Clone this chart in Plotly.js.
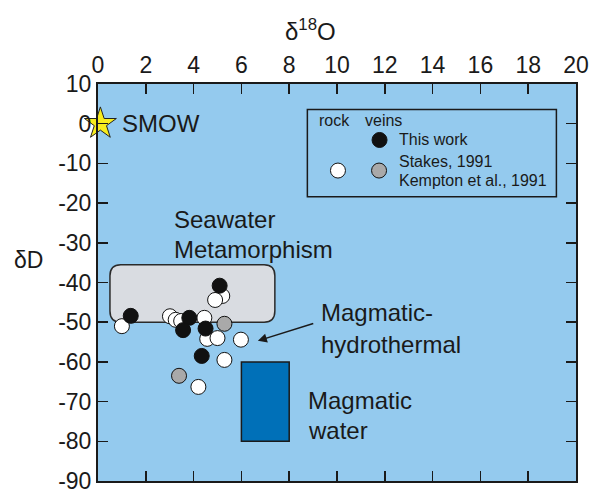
<!DOCTYPE html>
<html>
<head>
<meta charset="utf-8">
<script src="https://cdn.plot.ly/plotly-3.0.1.min.js"></script>
<style>html,body{margin:0;padding:0;background:#fff;}#chart{width:590px;height:491px;}</style>
</head>
<body>
<div id="chart"></div>
<script>
// ---- data (δ18O, δD) ----
const thisWorkX = [5.09, 1.37, 3.82, 3.56, 4.50, 4.34];
const thisWorkY = [-40.8, -48.4, -48.9, -52.0, -51.6, -58.5];
const rockX = [5.20, 4.90, 1.00, 3.01, 3.25, 3.48, 4.45, 4.57, 5.00, 5.98, 5.29, 4.20];
const rockY = [-43.4, -44.4, -51.0, -48.5, -49.4, -49.7, -48.9, -54.2, -54.0, -54.4, -59.5, -66.3];
const veinGrayX = [5.29, 3.39];
const veinGrayY = [-50.4, -63.5];
const smowX = [0.1];
const smowY = [0];
// regions
const seawaterBox = {x0: 0.5, x1: 7.4, y0: -50, y1: -35.5};
const magmaticBox = {x0: 6, x1: 8, y0: -80, y1: -60};
// legend keys
const legendBlack = {x: [11.78], y: [-4.1]};
const legendWhite = {x: [10.04], y: [-11.8]};
const legendGray = {x: [11.76], y: [-11.8]};
const legendBox = {x0: 8.76, x1: 19.18, y0: -18.4, y1: 3.6};
const xTicks = [0, 2, 4, 6, 8, 10, 12, 14, 16, 18, 20];
const yTicks = [10, 0, -10, -20, -30, -40, -50, -60, -70, -80, -90];

const FONT = 'Liberation Sans, Arial, Helvetica, sans-serif';
const INK = '#1a1a1a';
const mk = (fill) => ({size: 15, color: fill, line: {color: '#111', width: 1}});

const traces = [
  {x: rockX, y: rockY, mode: 'markers', type: 'scatter', marker: mk('#ffffff'), hoverinfo: 'none'},
  {x: veinGrayX, y: veinGrayY, mode: 'markers', type: 'scatter', marker: mk('#a9a9a9'), hoverinfo: 'none'},
  {x: thisWorkX, y: thisWorkY, mode: 'markers', type: 'scatter', marker: mk('#111111'), hoverinfo: 'none'},
  {x: smowX, y: smowY, mode: 'markers', type: 'scatter', cliponaxis: false,
   marker: {symbol: 'star', size: 24, color: '#f7ec1e', line: {color: '#222', width: 1}}, hoverinfo: 'none'},
  {x: legendBlack.x, y: legendBlack.y, mode: 'markers', type: 'scatter', marker: mk('#111111'), hoverinfo: 'none'},
  {x: legendWhite.x, y: legendWhite.y, mode: 'markers', type: 'scatter', marker: mk('#ffffff'), hoverinfo: 'none'},
  {x: legendGray.x, y: legendGray.y, mode: 'markers', type: 'scatter', marker: mk('#a9a9a9'), hoverinfo: 'none'}
];

// rounded rectangle path in data units
function roundRect(b, rx, ry) {
  const {x0, x1, y0, y1} = b;
  return `M ${x0+rx},${y0} L ${x1-rx},${y0} Q ${x1},${y0} ${x1},${y0+ry} L ${x1},${y1-ry} Q ${x1},${y1} ${x1-rx},${y1} ` +
         `L ${x0+rx},${y1} Q ${x0},${y1} ${x0},${y1-ry} L ${x0},${y0+ry} Q ${x0},${y0} ${x0+rx},${y0} Z`;
}

const shapes = [
  {type: 'path', xref: 'x', yref: 'y', path: roundRect(seawaterBox, 0.45, 2.8),
   fillcolor: '#d9dce1', line: {color: '#2a2a2a', width: 1.5}, layer: 'below'},
  {type: 'rect', xref: 'x', yref: 'y', x0: magmaticBox.x0, x1: magmaticBox.x1, y0: magmaticBox.y0, y1: magmaticBox.y1,
   fillcolor: '#0070b8', line: {color: INK, width: 1.5}, layer: 'below'},
  {type: 'rect', xref: 'x', yref: 'y', x0: legendBox.x0, x1: legendBox.x1, y0: legendBox.y0, y1: legendBox.y1,
   fillcolor: 'rgba(0,0,0,0)', line: {color: INK, width: 1.5}, layer: 'below'}
];

const txt = (text, x, y, size, xanchor) => ({text, x, y, xref: 'x', yref: 'y', showarrow: false,
  xanchor: xanchor || 'left', yanchor: 'middle', font: {family: FONT, size, color: INK}});

const annotations = [
  txt('SMOW', 0.9, 0, 24),
  txt('Seawater', 3.1, -24.2, 24),
  txt('Metamorphism', 3.1, -31.7, 24),
  txt('Magmatic-', 9.25, -47.6, 24),
  txt('hydrothermal', 9.25, -55.6, 24),
  txt('Magmatic', 8.7, -69.8, 24),
  txt('water', 8.7, -77.4, 24),
  txt('rock', 9.9, 0.9, 16, 'center'),
  txt('veins', 11.96, 0.9, 16, 'center'),
  txt('This work', 12.5, -4.1, 16),
  txt('Stakes, 1991', 12.5, -9.6, 16),
  txt('Kempton et al., 1991', 12.5, -14.4, 16),
  {x: 6.69, y: -54.7, ax: 9.07, ay: -50.2, xref: 'x', yref: 'y', axref: 'x', ayref: 'y', text: '',
   showarrow: true, arrowhead: 2, arrowsize: 1.2, arrowwidth: 1.5, arrowcolor: INK},
  // axis titles
  {text: 'δ<sup>18</sup>O', xref: 'paper', yref: 'paper', x: 0.4456, y: 1.136, xanchor: 'center', yanchor: 'middle',
   showarrow: false, font: {family: FONT, size: 24, color: INK}},
  {text: 'δD', xref: 'paper', yref: 'paper', x: -0.146, y: 0.557, xanchor: 'center', yanchor: 'middle',
   showarrow: false, font: {family: FONT, size: 23, color: INK}}
];

const layout = {
  width: 590, height: 491,
  margin: {l: 98, r: 14, t: 84, b: 10},
  paper_bgcolor: '#ffffff', plot_bgcolor: '#94caee',
  showlegend: false,
  font: {family: FONT, color: INK},
  xaxis: {
    side: 'top', range: [0, 20], tickvals: xTicks, ticktext: xTicks.map(String),
    ticks: 'inside', ticklen: 10, tickwidth: 1.5, tickcolor: INK,
    showline: true, linecolor: INK, linewidth: 2, mirror: 'ticks',
    showgrid: false, zeroline: false, ticklabeloverflow: 'allow',
    tickfont: {size: 23, family: FONT, color: INK}
  },
  yaxis: {
    range: [-90, 10], tickvals: yTicks, ticktext: yTicks.map(String),
    ticks: 'inside', ticklen: 10, tickwidth: 1.5, tickcolor: INK,
    showline: true, linecolor: INK, linewidth: 2, mirror: 'ticks',
    showgrid: false, zeroline: false, ticklabeloverflow: 'allow',
    tickfont: {size: 23, family: FONT, color: INK}
  },
  shapes, annotations
};

Plotly.newPlot('chart', traces, layout, {displayModeBar: false, staticPlot: true});
</script>
</body>
</html>
